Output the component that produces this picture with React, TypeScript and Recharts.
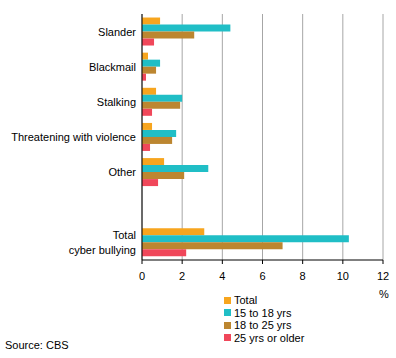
import { BarChart, Bar, XAxis, YAxis, CartesianGrid } from 'recharts';

const categories = ['Slander', 'Blackmail', 'Stalking', 'Threatening with violence', 'Other', '', 'Total\ncyber bullying'];
const total = [0.9, 0.3, 0.7, 0.5, 1.1, null, 3.1];
const age15to18 = [4.4, 0.9, 2.0, 1.7, 3.3, null, 10.3];
const age18to25 = [2.6, 0.7, 1.9, 1.5, 2.1, null, 7.0];
const age25plus = [0.6, 0.2, 0.5, 0.4, 0.8, null, 2.2];
const xTicks = [0, 2, 4, 6, 8, 10, 12];

const series = [
  { key: 'total', name: 'Total', color: '#f7a51e' },
  { key: 'a', name: '15 to 18 yrs', color: '#20bec6' },
  { key: 'b', name: '18 to 25 yrs', color: '#bc8630' },
  { key: 'c', name: '25 yrs or older', color: '#f0475a' },
];

const data = categories.map((name, i) => ({
  name,
  total: total[i],
  a: age15to18[i],
  b: age18to25[i],
  c: age25plus[i],
}));

const font = '"Liberation Sans", Arial, sans-serif';

const CategoryTick = ({ y, payload }: any) => {
  const lines = String(payload.value).split('\n');
  const start = -((lines.length - 1) * 15) / 2;
  return (
    <text x={136} y={y} textAnchor="end" fontSize={11} fill="#000" fontFamily={font}>
      {lines.map((l, i) => (
        <tspan key={i} x={136} dy={i === 0 ? start + 4 : 15}>
          {l}
        </tspan>
      ))}
    </text>
  );
};

export default function App() {
  return (
    <div style={{ position: 'absolute', left: 0, top: 0, width: 396, height: 358, fontFamily: font, background: '#fff' }}>
      <BarChart
        width={396}
        height={358}
        data={data}
        layout="vertical"
        margin={{ top: 14, right: 13, bottom: 68, left: 0 }}
        barCategoryGap="10%"
        barGap={0}
      >
        <CartesianGrid horizontal={false} stroke="#a6a6a6" />
        <XAxis
          type="number"
          domain={[0, 12]}
          ticks={xTicks}
          axisLine={{ stroke: '#000' }}
          tickLine={{ stroke: '#000' }}
          tickSize={4}
          tickMargin={8}
          height={30}
          tick={{ fontSize: 11, fill: '#000', fontFamily: font }}
        />
        <XAxis
          xAxisId="top"
          orientation="top"
          type="number"
          domain={[0, 12]}
          ticks={xTicks}
          tick={false}
          tickLine={false}
          height={0}
          axisLine={{ stroke: '#808080' }}
        />
        <YAxis
          type="category"
          dataKey="name"
          width={142}
          axisLine={{ stroke: '#000' }}
          tickLine={false}
          interval={0}
          tick={<CategoryTick />}
        />
        {series.map((s) => (
          <Bar key={s.key} dataKey={s.key} name={s.name} fill={s.color} isAnimationActive={false} />
        ))}
      </BarChart>
      <div style={{ position: 'absolute', left: 379, top: 288, fontSize: 11 }}>%</div>
      <div style={{ position: 'absolute', left: 224, top: 294, fontSize: 11, lineHeight: '12.5px' }}>
        {series.map((s) => (
          <div key={s.key} style={{ display: 'flex', alignItems: 'center' }}>
            <span style={{ width: 7, height: 7, background: s.color, display: 'inline-block', marginRight: 3 }} />
            {s.name}
          </div>
        ))}
      </div>
      <div style={{ position: 'absolute', left: 5, top: 339, fontSize: 11 }}>Source: CBS</div>
    </div>
  );
}
